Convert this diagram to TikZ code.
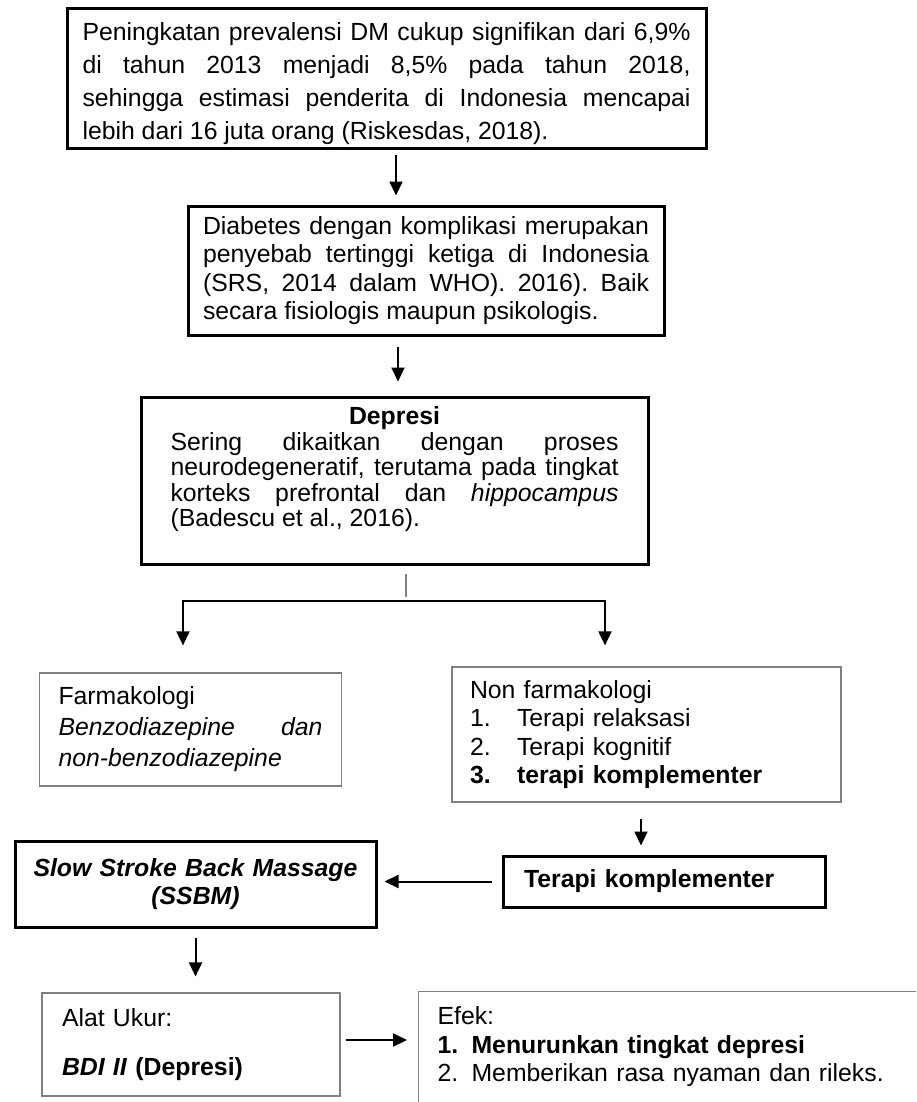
\documentclass[tikz,border=0pt]{standalone}
\usepackage{fontspec}
\setmainfont{Liberation Sans}
\usepackage{xcolor}
\usepackage{tikz}
\usetikzlibrary{arrows.meta}
\definecolor{FlowGray}{HTML}{808080}
\tolerance=10000
\hbadness=10000
\hyphenpenalty=10000
\frenchspacing

\begin{document}
\begin{tikzpicture}[x=0.5pt,y=-0.5pt,font=\fontsize{12.4}{14.25}\selectfont,
  every node/.style={align=justify},
  thickbox/.style={draw=black,line width=1.5pt,inner ysep=0pt},
  thinbox/.style={draw=FlowGray,line width=0.6pt,inner ysep=0pt},
  arr/.style={line width=1pt,-{Triangle[length=7pt,width=6.5pt]}}]
  \useasboundingbox (0,0) rectangle (916,1102);
  \clip (0,0) rectangle (916,1102);
  \node[thickbox,font=\fontsize{12.4}{16.5}\selectfont,text width=304pt,inner xsep=7.75pt,minimum height=69.5pt,text height=13.9pt] (rise) at (386.5,78.5)
    {Peningkatan prevalensi DM cukup signifikan dari 6,9\%\linebreak di tahun 2013 menjadi 8,5\% pada tahun 2018,\linebreak sehingga estimasi penderita di Indonesia mencapai\linebreak lebih dari 16 juta orang (Riskesdas, 2018).};
  \node[thickbox,text width=223pt,inner xsep=7.5pt,minimum height=64.5pt] (cause) at (426,270.5)
    {Diabetes dengan komplikasi merupakan\linebreak penyebab tertinggi ketiga di Indonesia\linebreak (SRS, 2014 dalam WHO). 2016). Baik\linebreak secara fisiologis maupun psikologis.};
  \node[thickbox,font=\fontsize{12.4}{12.75}\selectfont,text width=224pt,inner xsep=14.75pt,minimum height=83.5pt,text depth=64.5pt] (depr) at (394.5,480.5)
    {\hspace*{\fill}\textbf{Depresi}\hspace*{\fill}\\Sering dikaitkan dengan proses\linebreak neurodegeneratif, terutama pada tingkat\linebreak korteks prefrontal dan \textit{hippocampus}\linebreak (Badescu et al., 2016).};
  \node[thinbox,font=\fontsize{12.4}{15.5}\selectfont,text width=132pt,inner xsep=9.5pt,minimum height=56.5pt] (farm) at (190.5,729.5)
    {Farmakologi\\\textit{Benzodiazepine dan\linebreak non-benzodiazepine}};
  \node[thinbox,text width=176.5pt,inner xsep=9pt,minimum height=67.5pt,align=left] (nonfarm) at (646.5,734.5)
    {Non farmakologi\\\makebox[23.5pt][l]{1.}Terapi relaksasi\\\makebox[23.5pt][l]{2.}Terapi kognitif\\\textbf{\makebox[23.5pt][l]{3.}terapi komplementer}};
  \node[thickbox,text width=140pt,inner xsep=10.5pt,minimum height=25.5pt,align=left] (terapi) at (664,881.5)
    {\textbf{Terapi komplementer}};
  \node[thickbox,text width=164pt,inner xsep=8.25pt,minimum height=43pt,align=center] (ssbm) at (195.5,884)
    {\textbf{\textit{Slow Stroke Back Massage}}\\\textbf{\textit{(SSBM)}}};
  \node[thinbox,text width=129pt,inner xsep=10pt,minimum height=51.5pt,align=left] (alat) at (191,1044.5)
    {Alat Ukur:\\[10pt]\textbf{\textit{BDI II} (Depresi)}};
  \node[thinbox,text width=251pt,inner xsep=9.5pt,inner ysep=7.5pt,text depth=60pt,align=left,anchor=north west] (efek) at (418,991)
    {Efek:\\\textbf{\makebox[17pt][l]{1.}Menurunkan tingkat depresi}\\\makebox[17pt][l]{2.}Memberikan rasa nyaman dan rileks.};
  \coordinate (fork) at (394,601);
  \draw[arr,shorten <=2.5pt,shorten >=4.5pt] ([xshift=4.75pt]rise.south) -- ([xshift=-15pt]cause.north);
  \draw[arr,shorten <=5pt,shorten >=7pt] ([xshift=-14pt]cause.south) -- ([xshift=1.75pt]depr.north);
  \draw[FlowGray,line width=0.6pt,shorten <=4pt] ([xshift=5.75pt]depr.south) -- ++(0,31);
  \draw[arr,shorten >=13.5pt] (fork) -| ([xshift=-3.75pt]farm.north);
  \draw[arr,shorten >=10.5pt] (fork) -| ([xshift=-20.75pt]nonfarm.north);
  \draw[arr,shorten <=8pt,shorten >=4.5pt] ([xshift=-2.75pt]nonfarm.south) -- ([xshift=-11.5pt]terapi.north);
  \draw[arr,shorten <=5pt,shorten >=3.5pt] (terapi.west) -- (terapi.west -| ssbm.east);
  \draw[arr,shorten <=4.5pt,shorten >=8pt] (ssbm.south) -- (ssbm.south |- alat.north);
  \draw[arr,shorten <=2.5pt,shorten >=5.5pt] ([yshift=2.25pt]alat.east) -- ([yshift=2.25pt]alat.east -| efek.west);
\end{tikzpicture}
\end{document}
